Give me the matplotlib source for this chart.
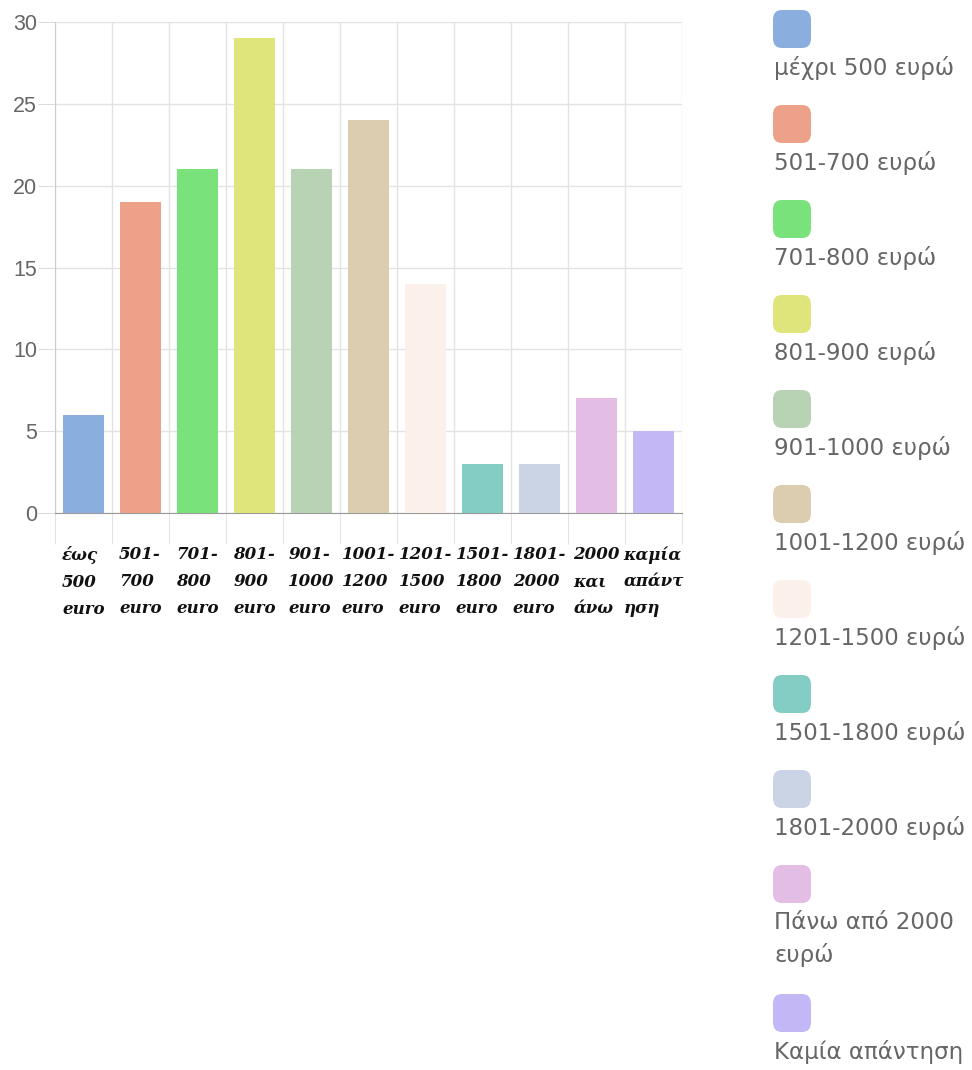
import matplotlib
matplotlib.use("Agg")
import matplotlib.pyplot as plt
from matplotlib.patches import FancyBboxPatch
import numpy as np

# data
categories = ["έως\n500\neuro", "501-\n700\neuro", "701-\n800\neuro", "801-\n900\neuro",
              "901-\n1000\neuro", "1001-\n1200\neuro", "1201-\n1500\neuro",
              "1501-\n1800\neuro", "1801-\n2000\neuro", "2000\nκαι\nάνω",
              "καμία\nαπάντ\nηση"]
values = [6, 19, 21, 29, 21, 24, 14, 3, 3, 7, 5]
legend_labels = ["μέχρι 500 ευρώ", "501-700 ευρώ", "701-800 ευρώ", "801-900 ευρώ",
                 "901-1000 ευρώ", "1001-1200 ευρώ", "1201-1500 ευρώ",
                 "1501-1800 ευρώ", "1801-2000 ευρώ", "Πάνω από 2000\nευρώ",
                 "Καμία απάντηση"]
colors = ["#8aafdf", "#eda189", "#79e27a", "#dfe57a", "#b8d3b3", "#dccdb0",
          "#fbf0ea", "#84cdc5", "#cbd4e5", "#e3bde3", "#c3b8f5"]
yticks = [0, 5, 10, 15, 20, 25, 30]

W, H = 972, 1070
fig = plt.figure(figsize=(W / 100, H / 100), dpi=100)
ax = fig.add_axes([55 / W, 1 - 513 / H, 627 / W, 491 / H])

x = np.arange(len(values))
ax.bar(x, values, width=0.72, color=colors, zorder=3)

ax.set_xlim(-0.5, len(values) - 0.5)
ax.set_ylim(0, 30)
ax.set_yticks(yticks)
ax.set_yticklabels([str(t) for t in yticks], color="#666666", fontsize=15.5,
                   family="Liberation Sans")
ax.tick_params(axis="y", length=12, color="#dddddd", pad=1)

ax.set_xticks(x)
ax.set_xticklabels(categories, family="DejaVu Serif", style="italic",
                   weight="bold", fontsize=12, linespacing=1.75, color="#111111",
                   multialignment="left")
ax.tick_params(axis="x", which="major", length=0, pad=24)
ax.set_xticks(np.arange(len(values) + 1) - 0.5, minor=True)
ax.tick_params(axis="x", which="minor", length=22, color="#dddddd")

ax.grid(True, which="major", axis="y", color="#e3e3e3", linewidth=1, zorder=0)
ax.grid(True, which="minor", axis="x", color="#e3e3e3", linewidth=1, zorder=0)
for s in ["top", "right"]:
    ax.spines[s].set_visible(False)
ax.spines["left"].set_color("#cccccc")
ax.spines["bottom"].set_color("#999999")

# legend drawn on the right side
y = 10
for lab, col in zip(legend_labels, colors):
    box = FancyBboxPatch((773 / W, 1 - (y + 38) / H), 38 / W, 38 / H,
                         boxstyle="round,pad=0,rounding_size=0.009",
                         transform=fig.transFigure, facecolor=col,
                         edgecolor="none")
    fig.patches.append(box)
    fig.text(774 / W, 1 - (y + 46) / H, lab, ha="left", va="top",
             fontsize=16.5, color="#666666", family="DejaVu Sans",
             linespacing=1.45)
    y += 95 + 34 * lab.count("\n")

fig.savefig("out.png", dpi=100)
